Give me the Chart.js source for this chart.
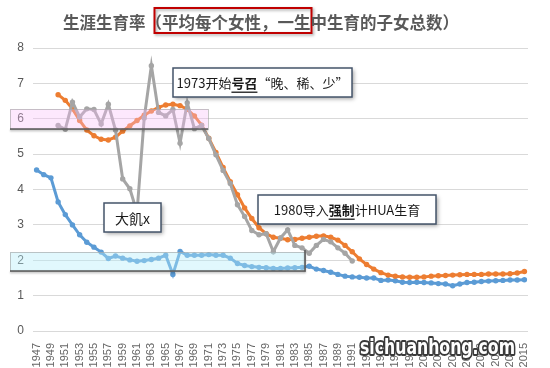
<!DOCTYPE html>
<html>
<head>
<meta charset="utf-8">
<script src="https://cdn.jsdelivr.net/npm/chart.js@4/dist/chart.umd.min.js"></script>
<style>
html, body { margin: 0; padding: 0; background: #fff; }
#wrap { width: 550px; height: 368px; }
</style>
</head>
<body>
<div id="wrap"><canvas id="chart" width="550" height="368"></canvas></div>
<script>
const years = ['1947','1948','1949','1950','1951','1952','1953','1954','1955','1956',
    '1957','1958','1959','1960','1961','1962','1963','1964','1965','1966',
    '1967','1968','1969','1970','1971','1972','1973','1974','1975','1976',
    '1977','1978','1979','1980','1981','1982','1983','1984','1985','1986',
    '1987','1988','1989','1990','1991','1992','1993','1994','1995','1996',
    '1997','1998','1999','2000','2001','2002','2003','2004','2005','2006',
    '2007','2008','2009','2010','2011','2012','2013','2014','2015'];

// blue line, 1947-2015
const blueRate = [4.55, 4.42, 4.33, 3.65, 3.29, 3.00, 2.72, 2.51, 2.37, 2.23,
    2.05, 2.12, 2.06, 2.01, 1.97, 1.99, 2.02, 2.06, 2.14, 1.60,
    2.25, 2.14, 2.14, 2.14, 2.16, 2.14, 2.14, 2.06, 1.91, 1.85,
    1.82, 1.80, 1.79, 1.77, 1.77, 1.78, 1.79, 1.80, 1.83, 1.75,
    1.71, 1.66, 1.60, 1.55, 1.53, 1.52, 1.50, 1.50, 1.43, 1.44,
    1.42, 1.38, 1.37, 1.38, 1.37, 1.36, 1.34, 1.33, 1.28, 1.33,
    1.37, 1.38, 1.40, 1.41, 1.42, 1.43, 1.44, 1.44, 1.45];

// orange line, starts 1950
const orangeRate = [null, null, null, 6.68, 6.52, 6.28, 5.95, 5.68, 5.52, 5.42,
    5.40, 5.48, 5.65, 5.80, 5.95, 6.10, 6.22, 6.32, 6.39, 6.41,
    6.37, 6.27, 6.08, 5.82, 5.45, 5.05, 4.62, 4.22, 3.85, 3.48,
    3.18, 2.92, 2.75, 2.65, 2.62, 2.58, 2.59, 2.62, 2.65, 2.68,
    2.69, 2.65, 2.57, 2.42, 2.24, 2.04, 1.88, 1.75, 1.65, 1.58,
    1.55, 1.53, 1.52, 1.52, 1.53, 1.55, 1.56, 1.57, 1.58, 1.59,
    1.60, 1.60, 1.60, 1.61, 1.61, 1.61, 1.62, 1.64, 1.68];

// gray line, 1950-1991
const grayRate = [null, null, null, 5.81, 5.70, 6.47, 6.05, 6.28, 6.26, 5.85,
    6.41, 5.68, 4.30, 4.02, 3.35, 6.02, 7.50, 6.18, 6.08, 6.26,
    5.31, 6.45, 5.72, 5.81, 5.44, 4.98, 4.54, 4.17, 3.57, 3.24,
    2.84, 2.72, 2.75, 2.24, 2.63, 2.86, 2.42, 2.35, 2.20, 2.42,
    2.59, 2.52, 2.35, 2.20, 1.98];

const titleText = '生涯生育率（平均每个女性，一生中生育的子女总数）';
const note1973 = [{ t: '1973开始' }, { t: '号召', b: true, u: true }, { t: '“晚、稀、少”' }];
const note1980 = [{ t: '1980导入' }, { t: '强制', b: true, u: true }, { t: '计HUA生育' }];
const noteFamine = [{ t: '大飢x' }];

const CJK = '"Noto Sans CJK SC", "Noto Sans", sans-serif';

function richText(ctx, segs, cx, cy, size) {
    let total = 0;
    segs.forEach(s => {
        ctx.font = (s.b ? 'bold ' : '') + size + 'px ' + CJK;
        s.w = ctx.measureText(s.t).width;
        total += s.w;
    });
    let x = cx - total / 2;
    ctx.textAlign = 'left';
    ctx.textBaseline = 'middle';
    ctx.fillStyle = '#1a1a1a';
    segs.forEach(s => {
        ctx.font = (s.b ? 'bold ' : '') + size + 'px ' + CJK;
        ctx.fillText(s.t, x, cy);
        if (s.u) {
            ctx.fillRect(x, cy + size * 0.62, s.w, 1.3);
        }
        x += s.w;
    });
}

function noteBox(ctx, x, y, w, h, segs, size) {
    ctx.save();
    ctx.shadowColor = 'rgba(0,0,0,0.35)';
    ctx.shadowBlur = 4;
    ctx.shadowOffsetX = 2;
    ctx.shadowOffsetY = 2;
    ctx.fillStyle = '#fff';
    ctx.fillRect(x, y, w, h);
    ctx.restore();
    ctx.save();
    ctx.strokeStyle = '#44546a';
    ctx.lineWidth = 1.5;
    ctx.strokeRect(x, y, w, h);
    richText(ctx, segs, x + w / 2, y + h / 2 + 1, size);
    ctx.restore();
}

function band(ctx, x, y, w, h, fill, rightEdge) {
    ctx.save();
    ctx.fillStyle = fill;
    ctx.fillRect(x, y, w, h);
    ctx.strokeStyle = 'rgba(160,160,160,0.6)';
    ctx.lineWidth = 1;
    ctx.strokeRect(x + 0.5, y + 0.5, w, h);
    ctx.shadowColor = 'rgba(0,0,0,0.3)';
    ctx.shadowBlur = 2;
    ctx.shadowOffsetY = 1.5;
    ctx.strokeStyle = '#595959';
    ctx.lineWidth = 1.5;
    ctx.beginPath();
    ctx.moveTo(x, y + h);
    ctx.lineTo(x + w, y + h);
    if (rightEdge) ctx.lineTo(x + w, y - 2);
    ctx.stroke();
    ctx.restore();
}

const overlay = {
    id: 'overlay',
    afterDatasetsDraw(chart) {
        const ctx = chart.ctx;
        band(ctx, 10, 109, 198, 20, 'rgba(250,190,250,0.35)', false);
        band(ctx, 10, 252, 295, 19, 'rgba(180,238,250,0.4)', true);
        noteBox(ctx, 173, 68, 179, 29, note1973, 13);
        noteBox(ctx, 258, 195, 178, 29, note1980, 13);
        noteBox(ctx, 104, 203, 57, 29, noteFamine, 14);
    },
    afterDraw(chart) {
        const ctx = chart.ctx;
        ctx.save();
        // title with red highlight box
        ctx.font = 'bold 16.5px ' + CJK;
        const x0 = 63;
        const pre = ctx.measureText('生涯生育率').width;
        const upto = ctx.measureText('生涯生育率（平均每个女性，一生').width;
        ctx.save();
        ctx.shadowColor = 'rgba(0,0,0,0.35)';
        ctx.shadowBlur = 3;
        ctx.shadowOffsetX = 1.5;
        ctx.shadowOffsetY = 1.5;
        ctx.strokeStyle = '#c00000';
        ctx.lineWidth = 2;
        ctx.strokeRect(x0 + pre + 9, 8, upto - pre - 8, 25);
        ctx.restore();
        ctx.fillStyle = '#595959';
        ctx.textAlign = 'left';
        ctx.textBaseline = 'middle';
        ctx.fillText(titleText, x0, 22.5);

        // site watermark
        ctx.font = 'bold 21px "DejaVu Sans", sans-serif';
        const ww = ctx.measureText('sichuanhong.com').width;
        ctx.translate(360, 349);
        ctx.scale(155 / ww, 1);
        ctx.lineJoin = 'round';
        ctx.lineWidth = 4;
        ctx.strokeStyle = '#3a3a3a';
        ctx.strokeText('sichuanhong.com', 0, 0);
        ctx.fillStyle = '#fff';
        ctx.fillText('sichuanhong.com', 0, 0);
        ctx.restore();
    }
};

const lineStyle = (color, order) => ({
    borderColor: color,
    backgroundColor: color,
    pointBackgroundColor: color,
    pointBorderWidth: 0,
    pointRadius: 2.7,
    borderWidth: 3,
    tension: 0,
    order: order
});

new Chart(document.getElementById('chart'), {
    type: 'line',
    data: {
        labels: years,
        datasets: [
            Object.assign({ label: 'blue', data: blueRate }, lineStyle('#5b9bd5', 2)),
            Object.assign({ label: 'orange', data: orangeRate }, lineStyle('#ed7d31', 1)),
            Object.assign({ label: 'gray', data: grayRate }, lineStyle('#a5a5a5', 0))
        ]
    },
    options: {
        responsive: false,
        animation: false,
        devicePixelRatio: 1,
        layout: { padding: { top: 48, right: 22, left: 0, bottom: 0 } },
        plugins: {
            legend: { display: false },
            tooltip: { enabled: false }
        },
        scales: {
            x: {
                offset: true,
                grid: { display: false },
                border: { display: false },
                afterFit: s => { s.height = 37; },
                ticks: {
                    autoSkip: false,
                    maxRotation: 90,
                    minRotation: 90,
                    padding: 4,
                    color: '#666666',
                    font: { size: 11, family: '"Liberation Sans", sans-serif' },
                    callback: (v, i) => i % 2 === 0 ? years[i] : ''
                }
            },
            y: {
                min: 0,
                max: 8,
                afterFit: s => { s.width = 33; },
                grid: { color: '#d9d9d9', lineWidth: 1, drawTicks: false },
                border: { display: false },
                ticks: {
                    stepSize: 1,
                    padding: 9,
                    color: '#595959',
                    font: { size: 12, family: '"Liberation Sans", sans-serif' }
                }
            }
        }
    },
    plugins: [overlay]
});
</script>
</body>
</html>
